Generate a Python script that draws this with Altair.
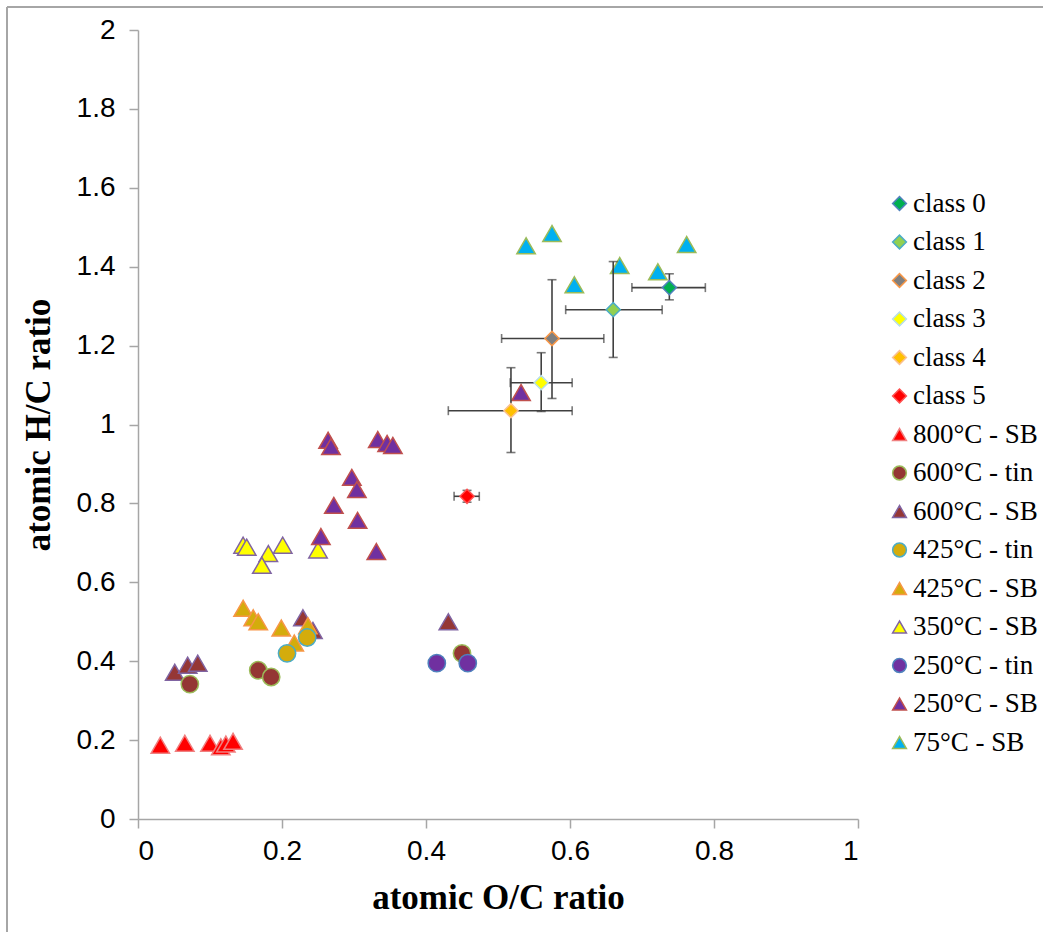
import altair as alt
import pandas as pd

# ---------------- data ----------------
series_order = ["class 0", "class 1", "class 2", "class 3", "class 4", "class 5",
                "800°C - SB", "600°C - tin", "600°C - SB", "425°C - tin", "425°C - SB",
                "350°C - SB", "250°C - tin", "250°C - SB", "75°C - SB"]

# measured samples (atomic O/C, atomic H/C)
oc_800_sb = [0.031, 0.065, 0.100, 0.115, 0.122, 0.132]
hc_800_sb = [0.187, 0.192, 0.192, 0.183, 0.190, 0.197]
oc_600_tin = [0.072, 0.167, 0.185, 0.450]
hc_600_tin = [0.342, 0.377, 0.360, 0.420]
oc_600_sb = [0.051, 0.069, 0.083, 0.229, 0.243, 0.431]
hc_600_sb = [0.372, 0.390, 0.395, 0.510, 0.478, 0.500]
oc_425_tin = [0.207, 0.235]
hc_425_tin = [0.420, 0.460]
oc_425_sb = [0.146, 0.160, 0.167, 0.199, 0.217, 0.236]
hc_425_sb = [0.534, 0.510, 0.500, 0.484, 0.446, 0.490]
oc_350_sb = [0.146, 0.151, 0.181, 0.172, 0.201, 0.250]
hc_350_sb = [0.694, 0.689, 0.673, 0.643, 0.694, 0.682]
oc_250_tin = [0.415, 0.458]
hc_250_tin = [0.395, 0.395]
oc_250_sb = [0.264, 0.268, 0.333, 0.346, 0.354, 0.297, 0.304, 0.272, 0.305, 0.254, 0.331, 0.532]
hc_250_sb = [0.960, 0.944, 0.962, 0.952, 0.947, 0.866, 0.835, 0.795, 0.757, 0.716, 0.678, 1.081]
oc_75_sb = [0.539, 0.575, 0.762, 0.669, 0.722, 0.606]
hc_75_sb = [1.453, 1.484, 1.456, 1.403, 1.387, 1.354]

# class means with ranges
class_names = ["class 0", "class 1", "class 2", "class 3", "class 4", "class 5"]
class_oc = [0.738, 0.660, 0.575, 0.560, 0.518, 0.457]
class_hc = [1.347, 1.291, 1.218, 1.106, 1.035, 0.818]
class_oc_lo = [0.686, 0.594, 0.505, 0.517, 0.431, 0.439]
class_oc_hi = [0.788, 0.728, 0.647, 0.603, 0.603, 0.474]
class_hc_lo = [1.316, 1.170, 1.066, 1.033, 0.929, 0.803]
class_hc_hi = [1.382, 1.413, 1.367, 1.182, 1.144, 0.833]

x_ticks = [0, 0.2, 0.4, 0.6, 0.8, 1]
y_ticks = [0, 0.2, 0.4, 0.6, 0.8, 1, 1.2, 1.4, 1.6, 1.8, 2]

# ---------------- styles ----------------
fills = ["#00B050", "#92D050", "#7F7F7F", "#FFFF00", "#FFC000", "#FF0000",
         "#FF0000", "#943634", "#953735", "#D4AC0C", "#D4AC0C",
         "#FFFF00", "#7030A0", "#7030A0", "#00B0F0"]
strokes = ["#4F81BD", "#4BACC6", "#F79646", "#B7DEE8", "#FAC090", "#FF5050",
           "#F08080", "#9BBB59", "#8064A2", "#4BACC6", "#F79646",
           "#8064A2", "#4F81BD", "#C0504D", "#9BBB59"]
shapes = ["diamond"] * 6 + ["triangle-up", "circle", "triangle-up", "circle", "triangle-up",
                            "triangle-up", "circle", "triangle-up", "triangle-up"]

# ---------------- tables ----------------
samples = [
    ("800°C - SB", oc_800_sb, hc_800_sb),
    ("600°C - tin", oc_600_tin, hc_600_tin),
    ("600°C - SB", oc_600_sb, hc_600_sb),
    ("425°C - tin", oc_425_tin, hc_425_tin),
    ("425°C - SB", oc_425_sb, hc_425_sb),
    ("350°C - SB", oc_350_sb, hc_350_sb),
    ("250°C - tin", oc_250_tin, hc_250_tin),
    ("250°C - SB", oc_250_sb, hc_250_sb),
    ("75°C - SB", oc_75_sb, hc_75_sb),
]
shape_of = dict(zip(series_order, shapes))
rows = []
for name, xs, ys in samples:
    for a, b in zip(xs, ys):
        rows.append({"series": name, "oc": a, "hc": b, "kind": shape_of[name]})
df_samples = pd.DataFrame(rows)
df_tri = df_samples[df_samples["kind"] == "triangle-up"]
df_cir = df_samples[df_samples["kind"] == "circle"]

df_class = pd.DataFrame({
    "series": class_names, "oc": class_oc, "hc": class_hc,
    "oc_lo": class_oc_lo, "oc_hi": class_oc_hi,
    "hc_lo": class_hc_lo, "hc_hi": class_hc_hi,
})

xscale = alt.Scale(domain=[0, 1], nice=False, zero=False)
yscale = alt.Scale(domain=[0, 2], nice=False, zero=False)
x_title = "atomic O/C ratio"
y_title = "atomic H/C ratio"

x_axis = alt.Axis(values=x_ticks, format="~g", grid=False)
y_axis = alt.Axis(values=y_ticks, format="~g", grid=False)

legend = alt.Legend(orient="none", legendX=748, legendY=160, padding=0,
                    labelFont="Liberation Serif", labelFontSize=27, labelColor="black",
                    symbolSize=190, symbolStrokeWidth=1.5, rowPadding=10.5, labelOffset=0,
                    labelLimit=300)

enc_style = dict(
    fill=alt.Fill("series:N", scale=alt.Scale(domain=series_order, range=fills),
                  title=None, legend=legend),
    stroke=alt.Stroke("series:N", scale=alt.Scale(domain=series_order, range=strokes),
                      title=None, legend=legend),
    shape=alt.Shape("series:N", scale=alt.Scale(domain=series_order, range=shapes),
                    title=None, legend=legend),
)


def points(df, size):
    return alt.Chart(df).mark_point(filled=True, strokeWidth=1.5, opacity=1, size=size).encode(
        x=alt.X("oc:Q", scale=xscale, axis=x_axis, title=x_title),
        y=alt.Y("hc:Q", scale=yscale, axis=y_axis, title=y_title),
        **enc_style,
    )


tri = points(df_tri, 340)
cir = points(df_cir, 300)
cls = points(df_class, 200)

err_h = alt.Chart(df_class).mark_errorbar(ticks=True, size=9, thickness=1.6, color="#404040").encode(
    x=alt.X("oc_lo:Q", scale=xscale, axis=x_axis, title=x_title),
    x2="oc_hi:Q",
    y=alt.Y("hc:Q", scale=yscale, axis=y_axis, title=y_title),
)
err_v = alt.Chart(df_class).mark_errorbar(ticks=True, size=9, thickness=1.6, color="#404040").encode(
    y=alt.Y("hc_lo:Q", scale=yscale, axis=y_axis, title=y_title),
    y2="hc_hi:Q",
    x=alt.X("oc:Q", scale=xscale, axis=x_axis, title=x_title),
)

# outer frame of the figure (top and left edges visible in the reference)
frame_data = alt.Data(values=[{"k": 0}])
frame_top = alt.Chart(frame_data).mark_rule(color="#A6A6A6", strokeWidth=2).encode(
    x=alt.value(-131), x2=alt.value(905), y=alt.value(-23))
frame_left = alt.Chart(frame_data).mark_rule(color="#A6A6A6", strokeWidth=2).encode(
    x=alt.value(-131), y=alt.value(-23), y2=alt.value(902))

chart = alt.layer(tri, cir, err_h, err_v, cls, frame_top, frame_left).properties(
    width=720, height=789,
    autosize=alt.AutoSizeParams(type="none"),
    padding={"left": 138, "top": 30, "right": 185, "bottom": 113},
    background="white",
).configure_view(stroke=None).configure_axis(
    domainColor="#A6A6A6", domainWidth=1.5, tickColor="#A6A6A6", tickWidth=1.5, tickSize=9,
    labelFont="Liberation Sans", labelFontSize=28, labelColor="black",
    titleFont="Liberation Serif", titleFontSize=35, titleFontWeight="bold", titleColor="black",
).configure_axisX(
    labelPadding=9, titlePadding=15,
).configure_axisY(
    labelPadding=14, titlePadding=20,
)

chart.save("out.html", embed_options={"renderer": "svg", "actions": False})
